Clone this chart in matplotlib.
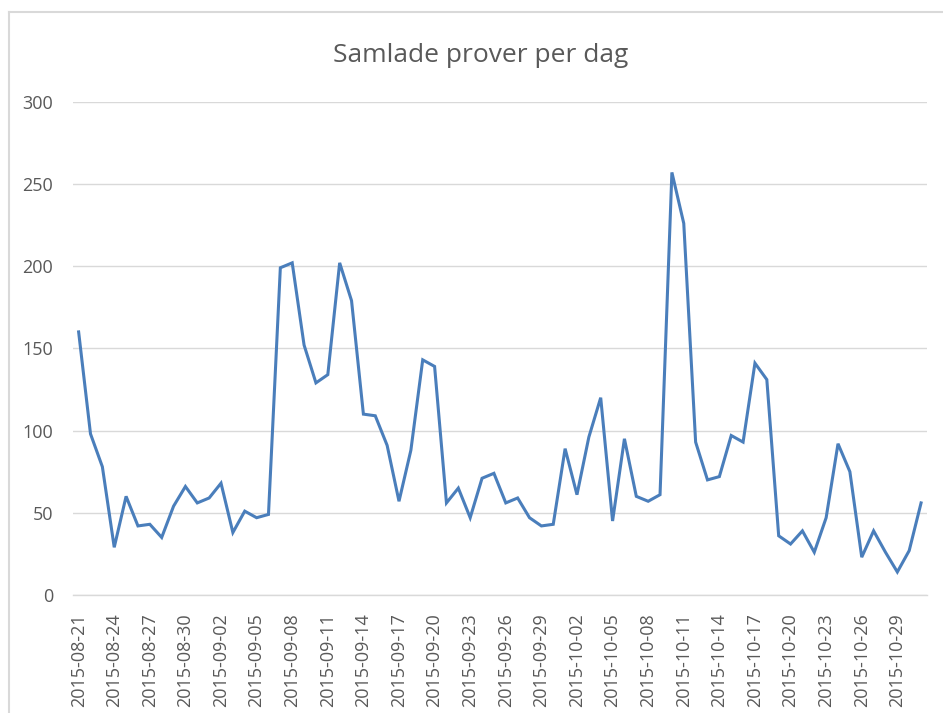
import matplotlib
matplotlib.use("Agg")
import matplotlib.pyplot as plt
from matplotlib.lines import Line2D
import pandas as pd

# samples per day
dates = pd.date_range("2015-08-21", "2015-10-31", freq="D")
samples = [160, 98, 78, 29, 60, 42, 43, 35, 54, 66,
           56, 59, 68, 38, 51, 47, 49, 199, 202, 152,
           129, 134, 202, 179, 110, 109, 91, 57, 88, 143,
           139, 56, 65, 47, 71, 74, 56, 59, 47, 42,
           43, 89, 61, 96, 120, 45, 95, 60, 57, 61,
           257, 226, 93, 70, 72, 97, 93, 141, 131, 36,
           31, 39, 26, 47, 92, 75, 23, 39, 26, 14,
           27, 56]
title = "Samlade prover per dag"
yticks = [0, 50, 100, 150, 200, 250, 300]

grey_text = "#595959"
grid_col = "#d9d9d9"

plt.rcParams["font.family"] = ["Open Sans", "DejaVu Sans"]

fig = plt.figure(figsize=(9.43, 7.13), dpi=100)
fig.patch.set_facecolor("white")
W, H = 943.0, 713.0
ax = fig.add_axes([72.7 / W, 1 - 595 / H, (927 - 72.7) / W, (595 - 101.7) / H])

x = list(range(len(samples)))
ax.plot(x, samples, color="#4A7EBB", linewidth=2.2, solid_joinstyle="miter")

ax.set_xlim(-0.5, len(samples) - 0.5)
ax.set_ylim(0, 300)
ax.set_yticks(yticks)
ax.set_xticks(x[::3])
ax.set_xticklabels([d.strftime("%Y-%m-%d") for d in dates[::3]], rotation=90)

ax.grid(axis="y", color=grid_col, linewidth=1.0)
ax.set_axisbelow(True)
for s in ["top", "right", "left"]:
    ax.spines[s].set_visible(False)
ax.spines["bottom"].set_color(grid_col)
ax.spines["bottom"].set_linewidth(1.0)
ax.tick_params(axis="both", length=0, labelsize=13, colors=grey_text)
ax.tick_params(axis="x", pad=13)
ax.tick_params(axis="y", pad=14)

fig.text(480.5 / W, 1 - 62 / H, title, ha="center", va="baseline",
         fontsize=19, color=grey_text)

# chart frame (only left and top edges fall inside the picture)
fig.add_artist(Line2D([9 / W, 9 / W], [0, 1 - 12 / H], transform=fig.transFigure,
                      color=grid_col, linewidth=1.5))
fig.add_artist(Line2D([9 / W, 1], [1 - 12 / H, 1 - 12 / H], transform=fig.transFigure,
                      color=grid_col, linewidth=1.5))

fig.savefig("out.png", dpi=100)
